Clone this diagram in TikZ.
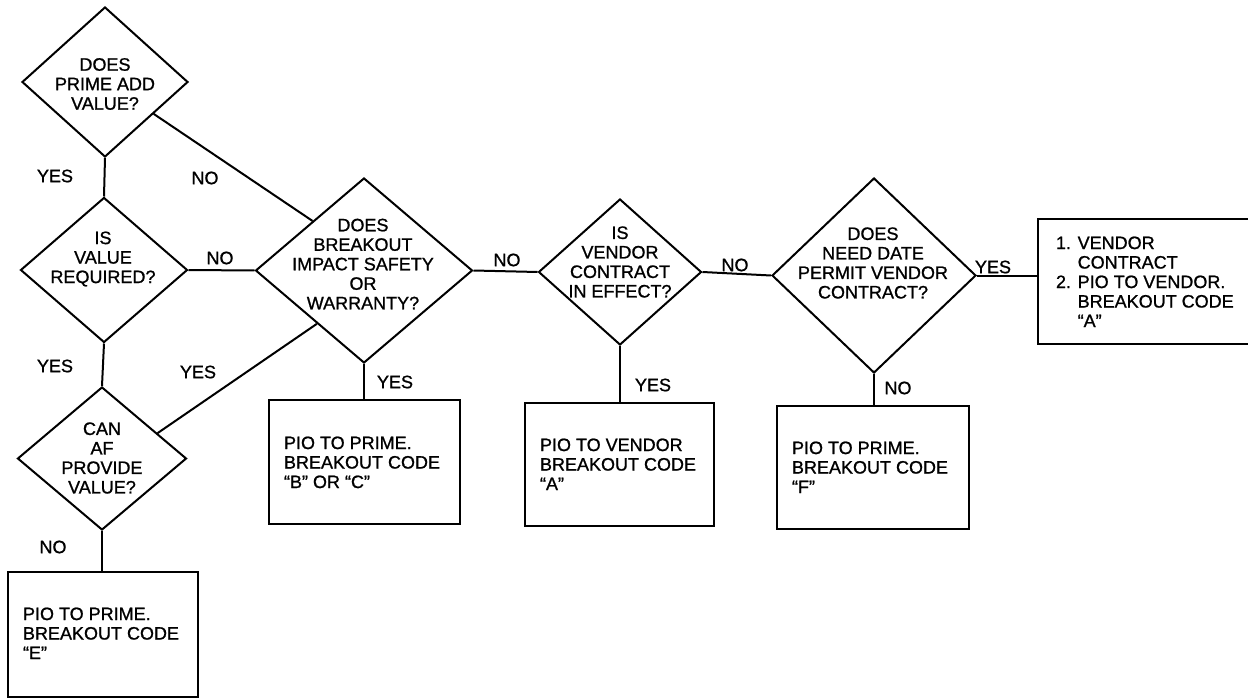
\documentclass[tikz,border=0pt]{standalone}
\usepackage{fontspec}
\setmainfont[FakeBold=1]{Liberation Sans}
\usetikzlibrary{shapes.geometric,calc}
\newcommand{\dgfont}{\fontsize{18}{19.5}\selectfont}
\begin{document}
\begin{tikzpicture}[x=1pt,y=-1pt,line width=2pt,
  dia/.style={draw,shape=diamond,inner sep=0pt},
  box/.style={draw,rectangle,inner sep=0pt},
  qtxt/.style={align=center,font=\dgfont,inner sep=0pt},
  btxt/.style={align=left,font=\dgfont,inner sep=0pt,anchor=north west},
  lbl/.style={font=\dgfont,inner sep=0pt},
  conn/.style={draw,line width=2pt}]
\useasboundingbox (0,0) rectangle (1248,698);

% decision diamonds
\node[dia,minimum width=166,minimum height=150] (d1) at (105,82) {};
\node[dia,minimum width=167,minimum height=145] (d2) at (104,270) {};
\node[dia,minimum width=169,minimum height=143] (d3) at (102,458.5) {};
\node[dia,minimum width=217,minimum height=185] (d4) at (364,270.5) {};
\node[dia,minimum width=163,minimum height=146] (d5) at (620,272) {};
\node[dia,minimum width=204,minimum height=195] (d6) at (874,275.5) {};

\node[qtxt] (t1) at (105,84) {DOES\\PRIME ADD\\VALUE?};
\node[qtxt] (t2) at (103,259) {IS\\VALUE\\REQUIRED?};
\node[qtxt] (t3) at (102,458) {CAN\\AF\\PROVIDE\\VALUE?};
\node[qtxt] (t4) at (363,264) {DOES\\BREAKOUT\\IMPACT SAFETY\\OR\\WARRANTY?};
\node[qtxt] (t5) at (620,262) {IS\\VENDOR\\CONTRACT\\IN EFFECT?};
\node[qtxt] (t6) at (873,263) {DOES\\NEED DATE\\PERMIT VENDOR\\CONTRACT?};

% outcome boxes
\node[box,minimum width=190,minimum height=125] (bE) at (103,634.5) {};
\node[box,minimum width=191,minimum height=124] (bBC) at (364.5,462) {};
\node[box,minimum width=189,minimum height=123] (bA) at (619.5,464.5) {};
\node[box,minimum width=192,minimum height=123] (bF) at (873,467.5) {};
\node[box,minimum width=218,minimum height=125] (bVC) at (1147,281.5) {};

\node[btxt] (tE) at (22,606.5) {PIO TO PRIME.\\BREAKOUT CODE\\“E”};
\node[btxt] (tBC) at (283,435.5) {PIO TO PRIME.\\BREAKOUT CODE\\“B” OR “C”};
\node[btxt] (tA) at (539,437.5) {PIO TO VENDOR\\BREAKOUT CODE\\“A”};
\node[btxt] (tF) at (791,440.5) {PIO TO PRIME.\\BREAKOUT CODE\\“F”};
\node[btxt] (tVC) at (1055,235.5) {1. VENDOR\\\hphantom{1. }CONTRACT\\2. PIO TO VENDOR.\\\hphantom{2. }BREAKOUT CODE\\\hphantom{2. }“A”};

% connectors
\coordinate (c1) at ($(d1.east)!0.42!(d1.south)$);
\coordinate (c4a) at ($(d4.west)!0.53!(d4.north)$);
\coordinate (c3) at ($(d3.north)!0.65!(d3.east)$);
\coordinate (c4b) at ($(d4.west)!0.57!(d4.south)$);

\draw[conn] (d1.south) -- (d2.north);
\draw[conn] (d2.south) -- (d3.north);
\draw[conn] (d3.south) -- (d3.south |- bE.north);
\draw[conn] (c1) -- (c4a);
\draw[conn] (d2.east) -- (d4.west);
\draw[conn] (c3) -- (c4b);
\draw[conn] (d4.south) -- (d4.south |- bBC.north);
\draw[conn] (d4.east) -- (d5.west);
\draw[conn] (d5.south) -- (d5.south |- bA.north);
\draw[conn] (d5.east) -- (d6.west);
\draw[conn] (d6.south) -- (d6.south |- bF.north);
\draw[conn] (d6.east) -- (d6.east -| bVC.west);

% labels
\node[lbl] (l1) at (55,176) {YES};
\node[lbl] (l2) at (205,178) {NO};
\node[lbl] (l3) at (220,258) {NO};
\node[lbl] (l4) at (55,366) {YES};
\node[lbl] (l5) at (198,372) {YES};
\node[lbl] (l6) at (53,547) {NO};
\node[lbl] (l7) at (395,382) {YES};
\node[lbl] (l8) at (507,260) {NO};
\node[lbl] (l9) at (653,385) {YES};
\node[lbl] (l10) at (735,265) {NO};
\node[lbl] (l11) at (898,388) {NO};
\node[lbl] (l12) at (993,267) {YES};
\end{tikzpicture}
\end{document}
